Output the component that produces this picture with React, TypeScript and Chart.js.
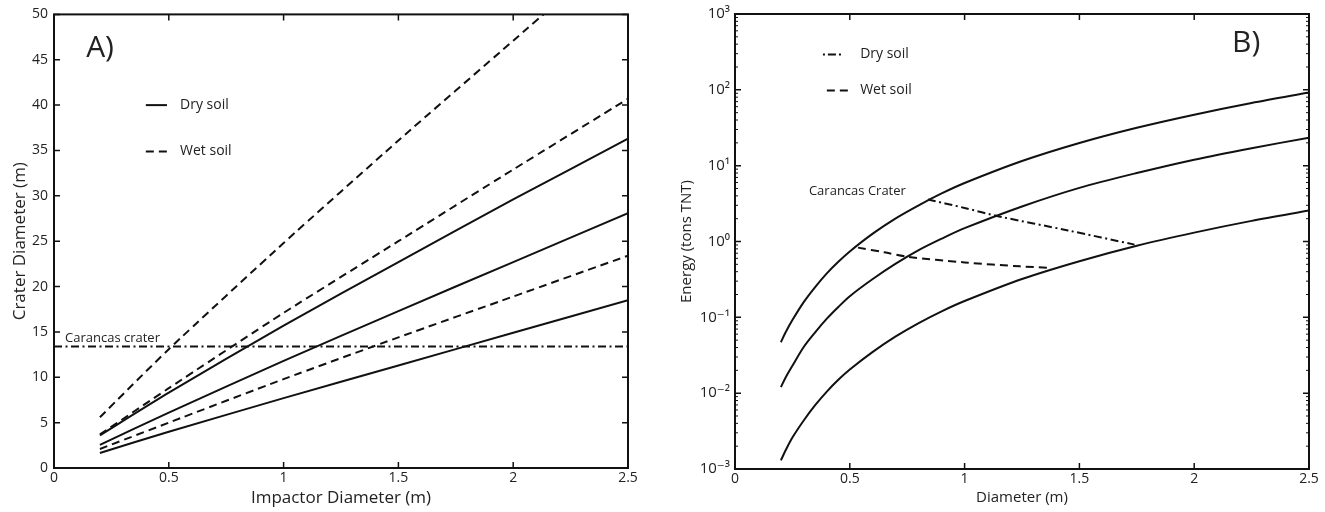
import React, { useEffect, useRef } from 'react';
import { Chart, registerables } from 'chart.js';

Chart.register(...registerables);

const FONT = "'Open Sans', 'DejaVu Sans', sans-serif";
const INK = '#111';
const TXT = '#222';

// ---------- Panel A: crater diameter vs impactor diameter ----------
const impactorDiameter = [0.2, 0.5, 1.0, 1.5, 2.0, 2.5];
const dryHighA = [3.6, 8.3, 15.7, 22.7, 29.6, 36.3];
const dryMidA = [2.55, 6.1, 11.8, 17.3, 22.7, 28.1];
const dryLowA = [1.65, 4.0, 7.7, 11.3, 14.9, 18.5];
const wetHighA = [5.6, 13.1, 24.8, 36.1, 47.1, 58.1];
const wetMidA = [3.7, 8.8, 17.1, 25.0, 32.9, 40.7];
const wetLowA = [2.1, 5.0, 9.8, 14.4, 18.9, 23.4];
const carancasX = [0, 2.5];
const carancasY = [13.4, 13.4];
const xTicksA = [0, 0.5, 1, 1.5, 2, 2.5];
const xTickLabelsA = ['0', '0.5', '1', '1.5', '2', '2.5'];
const yTicksA = [0, 5, 10, 15, 20, 25, 30, 35, 40, 45, 50];
const yTickLabelsA = ['0', '5', '10', '15', '20', '25', '30', '35', '40', '45', '50'];

// ---------- Panel B: energy vs diameter ----------
const diameterB = [0.2, 0.22, 0.25, 0.3, 0.35, 0.4, 0.45, 0.5, 0.6, 0.7, 0.8, 0.9, 1.0, 1.25, 1.5, 1.75, 2.0, 2.25, 2.5];
const energyHighB = [0.047, 0.063, 0.092, 0.16, 0.253, 0.38, 0.54, 0.74, 1.27, 2.02, 3.0, 4.3, 5.9, 11.5, 19.9, 31.6, 47, 67, 92];
const energyMidB = [0.012, 0.016, 0.023, 0.041, 0.064, 0.096, 0.137, 0.19, 0.32, 0.51, 0.77, 1.09, 1.5, 2.9, 5.1, 8.0, 12, 17, 23.4];
const energyLowB = [0.0013, 0.00175, 0.0026, 0.0044, 0.007, 0.0105, 0.015, 0.0205, 0.035, 0.056, 0.084, 0.12, 0.164, 0.32, 0.55, 0.88, 1.31, 1.87, 2.56];
const dryCarancasX = [0.84, 1.0, 1.15, 1.45, 1.74];
const dryCarancasE = [3.58, 2.77, 2.14, 1.4, 0.91];
const wetCarancasX = [0.536, 0.65, 0.749, 1.0, 1.241, 1.372];
const wetCarancasE = [0.83, 0.72, 0.63, 0.53, 0.47, 0.45];
const xTicksB = [0, 0.5, 1, 1.5, 2, 2.5];
const xTickLabelsB = ['0', '0.5', '1', '1.5', '2', '2.5'];
const yTicksB = [0.001, 0.01, 0.1, 1, 10, 100, 1000];
const yTickLabelsB = ['10⁻³', '10⁻²', '10⁻¹', '10⁰', '10¹', '10²', '10³'];

const DASH = [8, 5];
const DASHDOT = [8, 3.5, 2, 3.5];

const pts = (xs: number[], ys: number[]) => xs.map((x, i) => ({ x, y: ys[i] }));

const lineDs = (label: string, xs: number[], ys: number[], dash: number[] = [], tension = 0.2) => ({
  label,
  data: pts(xs, ys),
  showLine: true,
  borderColor: INK,
  backgroundColor: INK,
  borderWidth: 2,
  borderDash: dash,
  pointRadius: 0,
  pointHoverRadius: 0,
  fill: false,
  tension,
});

function framePlugin(opts: { xMajor: number[]; yMajor: number[]; minor?: boolean }) {
  return {
    id: 'frameTicks',
    afterDraw(chart: any) {
      const { ctx, chartArea: a, scales } = chart;
      const x = scales.x;
      const y = scales.y;
      ctx.save();
      ctx.strokeStyle = INK;
      ctx.lineWidth = 1.5;
      ctx.setLineDash([]);
      ctx.beginPath();
      for (const v of opts.xMajor) {
        const px = x.getPixelForValue(v);
        ctx.moveTo(px, a.bottom);
        ctx.lineTo(px, a.bottom - 6);
        ctx.moveTo(px, a.top);
        ctx.lineTo(px, a.top + 6);
      }
      for (const v of opts.yMajor) {
        const py = y.getPixelForValue(v);
        ctx.moveTo(a.left, py);
        ctx.lineTo(a.left + 6, py);
        ctx.moveTo(a.right, py);
        ctx.lineTo(a.right - 6, py);
      }
      ctx.stroke();
      if (opts.minor) {
        ctx.lineWidth = 1;
        ctx.beginPath();
        for (let e = -3; e < 3; e++) {
          for (let k = 2; k <= 9; k++) {
            const py = y.getPixelForValue(k * Math.pow(10, e));
            ctx.moveTo(a.left, py);
            ctx.lineTo(a.left + 3, py);
            ctx.moveTo(a.right, py);
            ctx.lineTo(a.right - 3, py);
          }
        }
        ctx.stroke();
      }
      ctx.lineWidth = 2;
      ctx.strokeRect(a.left, a.top, a.right - a.left, a.bottom - a.top);
      ctx.restore();
    },
  };
}

type Note = { text: string; x: number; y: number; size: number; baseline?: string };
type Sample = { x0: number; x1: number; y: number; dash: number[] };

function notesPlugin(notes: Note[], samples: Sample[]) {
  return {
    id: 'notes',
    afterDraw(chart: any) {
      const { ctx, scales } = chart;
      const x = scales.x;
      const y = scales.y;
      ctx.save();
      ctx.fillStyle = TXT;
      ctx.textAlign = 'left';
      for (const n of notes) {
        ctx.font = `${n.size}px ${FONT}`;
        ctx.textBaseline = (n.baseline || 'middle') as CanvasTextBaseline;
        ctx.fillText(n.text, x.getPixelForValue(n.x), y.getPixelForValue(n.y));
      }
      ctx.strokeStyle = INK;
      ctx.lineWidth = 2;
      for (const s of samples) {
        ctx.setLineDash(s.dash);
        ctx.beginPath();
        const py = y.getPixelForValue(s.y);
        ctx.moveTo(x.getPixelForValue(s.x0), py);
        ctx.lineTo(x.getPixelForValue(s.x1), py);
        ctx.stroke();
      }
      ctx.restore();
    },
  };
}

function axisCommon(ticks: number[], labels: string[], size: number, padding: number) {
  return {
    grid: { display: false, drawTicks: false },
    border: { display: false },
    afterBuildTicks: (s: any) => {
      s.ticks = ticks.map((v) => ({ value: v }));
    },
    ticks: {
      autoSkip: false,
      maxRotation: 0,
      padding,
      color: TXT,
      font: { family: FONT, size },
      callback: (_v: any, i: number) => labels[i],
    },
  };
}

function PanelA() {
  const ref = useRef<HTMLCanvasElement>(null);
  useEffect(() => {
    if (!ref.current) return;
    const chart = new Chart(ref.current, {
      type: 'scatter',
      data: {
        datasets: [
          lineDs('Dry soil', impactorDiameter, dryHighA),
          lineDs('Dry soil 2', impactorDiameter, dryMidA),
          lineDs('Dry soil 3', impactorDiameter, dryLowA),
          lineDs('Wet soil', impactorDiameter, wetHighA, DASH),
          lineDs('Wet soil 2', impactorDiameter, wetMidA, DASH),
          lineDs('Wet soil 3', impactorDiameter, wetLowA, DASH),
          lineDs('Carancas crater', carancasX, carancasY, DASHDOT, 0),
        ] as any,
      },
      options: {
        animation: false,
        responsive: false,
        layout: { padding: { top: 14, right: 34, left: 0, bottom: 0 } },
        plugins: { legend: { display: false }, tooltip: { enabled: false } },
        scales: {
          x: {
            type: 'linear',
            min: 0,
            max: 2.5,
            ...axisCommon(xTicksA, xTickLabelsA, 14, 2),
            afterFit: (s: any) => {
              s.height = 44;
            },
            title: {
              display: true,
              text: 'Impactor Diameter (m)',
              color: TXT,
              font: { family: FONT, size: 17 },
              padding: { top: 0, bottom: 4 },
            },
          },
          y: {
            type: 'linear',
            min: 0,
            max: 50,
            ...axisCommon(yTicksA, yTickLabelsA, 14, 6),
            afterFit: (s: any) => {
              s.width = 54;
            },
            title: {
              display: true,
              text: 'Crater Diameter (m)',
              color: TXT,
              font: { family: FONT, size: 17 },
              padding: { top: 10, bottom: 0 },
            },
          },
        } as any,
      },
      plugins: [
        framePlugin({ xMajor: xTicksA, yMajor: yTicksA }),
        notesPlugin(
          [
            { text: 'A)', x: 0.14, y: 46.3, size: 30 },
            { text: 'Dry soil', x: 0.549, y: 40.0, size: 14 },
            { text: 'Wet soil', x: 0.549, y: 34.9, size: 14 },
            { text: 'Carancas crater', x: 0.048, y: 13.85, size: 13, baseline: 'alphabetic' },
          ],
          [
            { x0: 0.4, x1: 0.492, y: 40.0, dash: [] },
            { x0: 0.4, x1: 0.492, y: 34.9, dash: DASH },
          ]
        ),
      ],
    });
    return () => chart.destroy();
  }, []);
  return <canvas ref={ref} width={662} height={512} />;
}

function PanelB() {
  const ref = useRef<HTMLCanvasElement>(null);
  useEffect(() => {
    if (!ref.current) return;
    const chart = new Chart(ref.current, {
      type: 'scatter',
      data: {
        datasets: [
          lineDs('Energy 1', diameterB, energyHighB, [], 0.3),
          lineDs('Energy 2', diameterB, energyMidB, [], 0.3),
          lineDs('Energy 3', diameterB, energyLowB, [], 0.3),
          lineDs('Dry soil', dryCarancasX, dryCarancasE, DASHDOT, 0.3),
          lineDs('Wet soil', wetCarancasX, wetCarancasE, DASH, 0.3),
        ] as any,
      },
      options: {
        animation: false,
        responsive: false,
        layout: { padding: { top: 14, right: 16, left: 0, bottom: 0 } },
        plugins: { legend: { display: false }, tooltip: { enabled: false } },
        scales: {
          x: {
            type: 'linear',
            min: 0,
            max: 2.5,
            ...axisCommon(xTicksB, xTickLabelsB, 14, 2),
            afterFit: (s: any) => {
              s.height = 43;
            },
            title: {
              display: true,
              text: 'Diameter (m)',
              color: TXT,
              font: { family: FONT, size: 15 },
              padding: { top: 0, bottom: 5 },
            },
          },
          y: {
            type: 'logarithmic',
            min: 0.001,
            max: 1000,
            ...axisCommon(yTicksB, yTickLabelsB, 15, 5),
            afterFit: (s: any) => {
              s.width = 73;
            },
            title: {
              display: true,
              text: 'Energy (tons TNT)',
              color: TXT,
              font: { family: FONT, size: 15 },
              padding: { top: 16, bottom: 0 },
            },
          },
        } as any,
      },
      plugins: [
        framePlugin({ xMajor: xTicksB, yMajor: yTicksB, minor: true }),
        notesPlugin(
          [
            { text: 'B)', x: 2.165, y: 410, size: 30 },
            { text: 'Dry soil', x: 0.545, y: 293, size: 14 },
            { text: 'Wet soil', x: 0.545, y: 98, size: 14 },
            { text: 'Carancas Crater', x: 0.322, y: 4.57, size: 13 },
          ],
          [
            { x0: 0.383, x1: 0.47, y: 293, dash: [2, 3, 8, 3] },
            { x0: 0.4, x1: 0.51, y: 98, dash: DASH },
          ]
        ),
      ],
    });
    return () => chart.destroy();
  }, []);
  return <canvas ref={ref} width={663} height={512} />;
}

export default function App() {
  return (
    <div style={{ position: 'absolute', left: 0, top: 0, width: 1325, height: 512, background: '#fff', overflow: 'hidden' }}>
      <div style={{ position: 'absolute', left: 0, top: 0, width: 662, height: 512 }}>
        <PanelA />
      </div>
      <div style={{ position: 'absolute', left: 662, top: 0, width: 663, height: 512 }}>
        <PanelB />
      </div>
    </div>
  );
}
